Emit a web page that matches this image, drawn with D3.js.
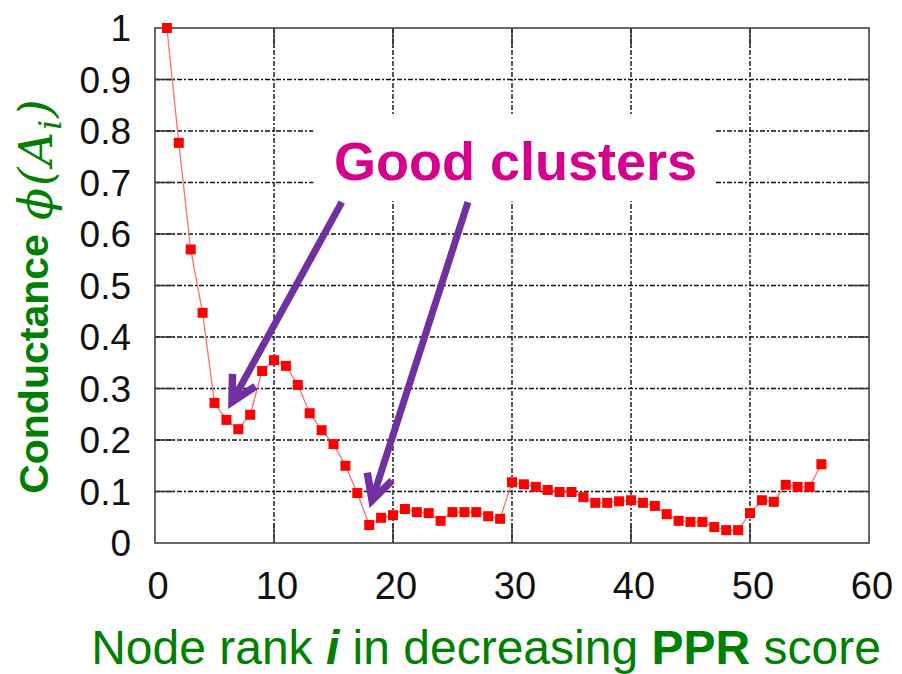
<!DOCTYPE html>
<html>
<head>
<meta charset="utf-8">
<script src="https://cdn.jsdelivr.net/npm/d3@7"></script>
<style>
  body { margin: 0; background: #fff; }
  svg { display: block; }
</style>
</head>
<body>
<svg id="chart" width="902" height="674"></svg>
<script>
// node rank i and conductance phi(A_i)
const ranks = [1, 2, 3, 4, 5, 6, 7, 8, 9, 10,
  11, 12, 13, 14, 15, 16, 17, 18, 19, 20,
  21, 22, 23, 24, 25, 26, 27, 28, 29, 30,
  31, 32, 33, 34, 35, 36, 37, 38, 39, 40,
  41, 42, 43, 44, 45, 46, 47, 48, 49, 50,
  51, 52, 53, 54, 55, 56];
const conductance = [1.000, 0.777, 0.570, 0.447, 0.272, 0.239, 0.221, 0.249, 0.334, 0.355,
  0.344, 0.307, 0.252, 0.219, 0.192, 0.150, 0.097, 0.035, 0.049, 0.054,
  0.066, 0.060, 0.058, 0.043, 0.060, 0.060, 0.060, 0.052, 0.047, 0.118,
  0.114, 0.109, 0.103, 0.099, 0.099, 0.089, 0.078, 0.078, 0.081, 0.083,
  0.078, 0.072, 0.056, 0.043, 0.041, 0.041, 0.031, 0.025, 0.025, 0.058,
  0.083, 0.080, 0.113, 0.109, 0.109, 0.153];

const xTicks = [0, 10, 20, 30, 40, 50, 60];
const yTicks = [0, 0.1, 0.2, 0.3, 0.4, 0.5, 0.6, 0.7, 0.8, 0.9, 1];
const yTickLabels = ["0", "0.1", "0.2", "0.3", "0.4", "0.5", "0.6", "0.7", "0.8", "0.9", "1"];

// annotation arrows: [start x, start y, tip x, tip y] in data units
const arrows = [[15.7, 0.662, 6.47, 0.274], [26.3, 0.662, 18.24, 0.083]];

const svg = d3.select("#chart");
const pLeft = 155, pRight = 869, pTop = 28, pBottom = 543;

const x = d3.scaleLinear().domain([0, 60]).range([pLeft, pRight]);
const y = d3.scaleLinear().domain([0, 1]).range([pBottom, pTop]);

const pts = ranks.map((r, i) => [r, conductance[i]]);

// grid lines (dash-dot like gnuplot)
const grid = svg.append("g");
grid.selectAll("line.gx")
  .data(xTicks.slice(1, -1))
  .join("line")
  .attr("x1", d => x(d)).attr("x2", d => x(d))
  .attr("y1", pTop).attr("y2", pBottom)
  .attr("stroke", "#111").attr("stroke-width", 1.4)
  .attr("stroke-dasharray", "5,2,2,2");
grid.selectAll("line.gy")
  .data(yTicks.slice(1, -1))
  .join("line")
  .attr("x1", pLeft).attr("x2", pRight)
  .attr("y1", d => y(d)).attr("y2", d => y(d))
  .attr("stroke", "#111").attr("stroke-width", 1.4)
  .attr("stroke-dasharray", "5,2,2,2");

// inward ticks on all four sides
const tickLen = 20;
const ticks = svg.append("g").attr("stroke", "#333").attr("stroke-width", 1.5);
xTicks.slice(1, -1).forEach(d => {
  ticks.append("line").attr("x1", x(d)).attr("x2", x(d)).attr("y1", pBottom).attr("y2", pBottom - tickLen);
  ticks.append("line").attr("x1", x(d)).attr("x2", x(d)).attr("y1", pTop).attr("y2", pTop + tickLen);
});
yTicks.slice(1, -1).forEach(d => {
  ticks.append("line").attr("x1", pLeft).attr("x2", pLeft + tickLen).attr("y1", y(d)).attr("y2", y(d));
  ticks.append("line").attr("x1", pRight).attr("x2", pRight - tickLen).attr("y1", y(d)).attr("y2", y(d));
});

// white box behind the annotation text
svg.append("rect")
  .attr("x", x(13.3)).attr("y", y(0.829))
  .attr("width", x(47.06) - x(13.3)).attr("height", y(0.664) - y(0.829))
  .attr("fill", "#fff");

// frame
svg.append("rect")
  .attr("x", pLeft).attr("y", pTop)
  .attr("width", pRight - pLeft).attr("height", pBottom - pTop)
  .attr("fill", "none").attr("stroke", "#444").attr("stroke-width", 1.6);

// tick labels
svg.append("g").selectAll("text")
  .data(xTicks)
  .join("text")
  .attr("x", d => x(d) + 3).attr("y", 599)
  .attr("text-anchor", "middle")
  .attr("font-family", "Liberation Sans, Arial, sans-serif")
  .attr("font-size", 38)
  .attr("fill", "#111")
  .text(d => d);

svg.append("g").selectAll("text")
  .data(yTicks)
  .join("text")
  .attr("x", 131).attr("y", d => y(d) + 13)
  .attr("text-anchor", "end")
  .attr("font-family", "Liberation Sans, Arial, sans-serif")
  .attr("font-size", 37)
  .attr("fill", "#111")
  .text((d, i) => yTickLabels[i]);

// series
const line = d3.line().x(d => x(d[0])).y(d => y(d[1]));
svg.append("path")
  .datum(pts)
  .attr("d", line)
  .attr("fill", "none")
  .attr("stroke", "#ff7070")
  .attr("stroke-width", 1.3);

const sq = 10;
svg.append("g").selectAll("rect")
  .data(pts)
  .join("rect")
  .attr("x", d => x(d[0]) - sq / 2).attr("y", d => y(d[1]) - sq / 2)
  .attr("width", sq).attr("height", sq)
  .attr("fill", "#ff0000");

// annotation
svg.append("text")
  .attr("x", x(30.3)).attr("y", y(0.705))
  .attr("text-anchor", "middle")
  .attr("font-family", "Liberation Sans, Arial, sans-serif")
  .attr("font-weight", "bold")
  .attr("font-size", 54)
  .attr("fill", "#d6008c")
  .text("Good clusters");

const purple = "#7030a0";
arrows.forEach(a => {
  const sx = x(a[0]), sy = y(a[1]), tx = x(a[2]), ty = y(a[3]);
  const ang = Math.atan2(sy - ty, sx - tx);
  const hl = 28, spread = Math.PI / 6.5;
  const b1 = [tx + hl * Math.cos(ang - spread), ty + hl * Math.sin(ang - spread)];
  const b2 = [tx + hl * Math.cos(ang + spread), ty + hl * Math.sin(ang + spread)];
  svg.append("line")
    .attr("x1", sx).attr("y1", sy).attr("x2", tx).attr("y2", ty)
    .attr("stroke", purple).attr("stroke-width", 7);
  svg.append("path")
    .attr("d", `M${b1[0]},${b1[1]}L${tx},${ty}L${b2[0]},${b2[1]}`)
    .attr("fill", "none")
    .attr("stroke", purple).attr("stroke-width", 7.5)
    .attr("stroke-linejoin", "miter");
});

// axis titles
const green = "#008000";
const xt = svg.append("text")
  .attr("x", 486).attr("y", 664)
  .attr("text-anchor", "middle")
  .attr("font-family", "Liberation Sans, Arial, sans-serif")
  .attr("font-size", 48)
  .attr("fill", green);
xt.append("tspan").text("Node rank ");
xt.append("tspan").attr("font-weight", "bold").attr("font-style", "italic").text("i");
xt.append("tspan").text(" in decreasing ");
xt.append("tspan").attr("font-weight", "bold").text("PPR");
xt.append("tspan").text(" score");

svg.append("text")
  .attr("transform", "translate(48,364) rotate(-90)")
  .attr("text-anchor", "middle")
  .attr("font-family", "Liberation Sans, Arial, sans-serif")
  .attr("font-weight", "bold")
  .attr("font-size", 41)
  .attr("fill", green)
  .text("Conductance");

const phi = svg.append("text")
  .attr("transform", "translate(52,220) rotate(-90)")
  .attr("text-anchor", "start")
  .attr("font-family", "DejaVu Serif, serif")
  .attr("font-style", "italic")
  .attr("letter-spacing", 2)
  .attr("fill", green);
phi.append("tspan").attr("font-size", 47).text("\u03D5(A");
phi.append("tspan").attr("font-size", 31).attr("dy", 9).text("i");
phi.append("tspan").attr("font-size", 47).attr("dy", -9).text(")");
</script>
</body>
</html>
